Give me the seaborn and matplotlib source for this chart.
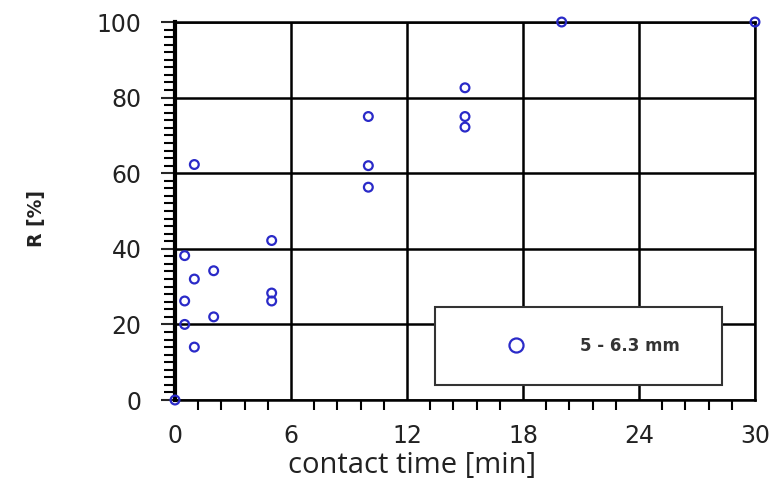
"""
R [%] versus contact time, 5 - 6.3 mm fraction
"""

import pandas as pd
import seaborn as sns
import matplotlib.pyplot as plt
from matplotlib.ticker import MultipleLocator

# data
TIME = [0, 0.5, 0.5, 0.5, 1, 1, 1, 2, 2, 5, 5, 5, 10, 10, 10, 15, 15, 15, 20, 30]
REMOVAL = [0, 38.2, 26.2, 20.0, 62.3, 32.0, 14.0, 34.2, 22.0, 42.2, 28.3, 26.2,
           75.0, 62.0, 56.3, 82.6, 75.0, 72.2, 100, 100]
SERIES = '5 - 6.3 mm'
X_TICKS = [0, 6, 12, 18, 24, 30]
Y_TICKS = [0, 20, 40, 60, 80, 100]

DATA = pd.DataFrame({'time': TIME, 'R': REMOVAL, 'fraction': SERIES})

sns.set_style('white')
plt.rcParams['font.family'] = ['DejaVu Sans']

fig = plt.figure(figsize=(7.73, 4.87), dpi=100)
ax = fig.add_axes([0.2264, 0.1786, 0.7503, 0.7762])

sns.scatterplot(x='time', y='R', data=DATA, hue='fraction',
                palette=['#2a2ac8'], marker='o', s=40,
                linewidth=1.6, ax=ax, clip_on=False, zorder=5)
# seaborn fills the markers, make them open circles
for coll in ax.collections:
    coll.set_facecolor('none')
    coll.set_edgecolor('#2a2ac8')

ax.set_xlim(0, 30)
ax.set_ylim(0, 100)
ax.set_xticks(X_TICKS)
ax.set_yticks(Y_TICKS)
ax.xaxis.set_minor_locator(MultipleLocator(1.2))
ax.yaxis.set_minor_locator(MultipleLocator(2))
ax.grid(True, which='major', color='black', linewidth=1.8)
ax.set_axisbelow(True)

ax.tick_params(axis='x', which='major', length=0, pad=17, labelsize=17,
               labelcolor='#222222')
ax.tick_params(axis='x', which='minor', direction='out', length=7.5, width=1.5,
               color='black', bottom=True)
ax.tick_params(axis='y', which='major', direction='out', length=10, width=1.5,
               pad=14, labelsize=17, labelcolor='#222222', left=True)
ax.tick_params(axis='y', which='minor', direction='out', length=8, width=1.5,
               color='black', left=True)

for side in ['top', 'right', 'bottom']:
    ax.spines[side].set_color('black')
    ax.spines[side].set_linewidth(1.8)
ax.spines['left'].set_color('black')
ax.spines['left'].set_linewidth(3)

ax.set_xlabel('contact time [min]', family=['Open Sans', 'DejaVu Sans'],
              fontsize=21, color='#222222', labelpad=0)
ax.xaxis.set_label_coords(0.409, -0.135)
ax.set_ylabel('R [%]', fontsize=13.5, fontweight='bold', color='#222222')
ax.yaxis.set_label_coords(-0.222, 0.48)

leg = ax.legend(loc='lower left', bbox_to_anchor=(0.449, 0.04, 0.494, 0.194),
                mode='expand', borderaxespad=0, borderpad=1.8,
                handlelength=6.1, handletextpad=0.75, markerscale=1.6,
                fontsize=12, frameon=True, fancybox=False, framealpha=1)
leg.get_frame().set_edgecolor('#333333')
leg.get_frame().set_linewidth(1.5)
leg.set_zorder(6)
for txt in leg.get_texts():
    txt.set_color('#333333')
    txt.set_fontweight('bold')
for h in leg.legend_handles:
    h.set_markerfacecolor('none')
    h.set_markeredgecolor('#2a2ac8')

plt.savefig('out.png', dpi=100)
